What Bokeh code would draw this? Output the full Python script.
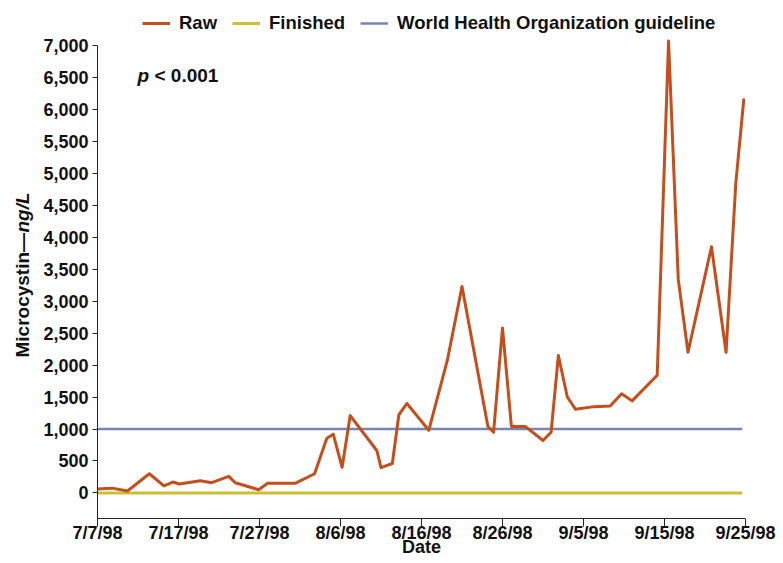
import math
import pandas as pd
from bokeh.plotting import figure
from bokeh.layouts import row
from bokeh.models import (Range1d, FixedTicker, NumeralTickFormatter, Label,
                          Legend, LegendItem)
from bokeh.embed import file_html
from bokeh.resources import INLINE

# ---------------- data ----------------
start_date = "1998-07-07"

raw_day_offsets = [0, 1.8, 3.7, 6.4, 8.2, 9.3, 10.1, 12.7, 14.1, 16.2, 17.0,
                   19.9, 21.0, 24.4, 26.8, 28.3, 29.1, 30.2, 31.2, 34.5, 35.0,
                   36.4, 37.2, 38.2, 40.9, 43.2, 45.0, 48.2, 48.9, 50.0, 51.1,
                   52.8, 55.0, 56.0, 56.9, 58.0, 59.0, 61.3, 63.3, 64.7, 66.0,
                   69.1, 70.5, 71.7, 72.9, 75.8, 77.6, 78.8, 79.8]
raw_values = [60, 75, 30, 300, 110, 170, 140, 190, 160, 260, 160,
              50, 150, 150, 300, 850, 920, 400, 1210, 660, 395,
              460, 1220, 1400, 980, 2080, 3230, 1040, 950, 2580, 1040,
              1040, 820, 950, 2150, 1500, 1310, 1350, 1360, 1550, 1440,
              1840, 7070, 3340, 2200, 3850, 2200, 4840, 6170]

finished_day_offsets = [0, 79.6]
finished_values = [0, 0]

who_day_offsets = [0, 79.6]
who_values = [1000, 1000]

x_tick_labels = ["7/7/98", "7/17/98", "7/27/98", "8/6/98", "8/16/98",
                 "8/26/98", "9/5/98", "9/15/98", "9/25/98"]
y_ticks = [0, 500, 1000, 1500, 2000, 2500, 3000, 3500, 4000, 4500,
           5000, 5500, 6000, 6500, 7000]

series_names = ["Raw", "Finished", "World Health Organization guideline"]
series_colors = ["#C44E1C", "#CBBF32", "#7686B0"]

y_title_main = "Microcystin\u2014"
y_title_unit = "ng/L"
x_title = "Date"
p_value_symbol = "p"
p_value_text = "< 0.001"

# ---------------- helpers ----------------
t0 = pd.Timestamp(start_date)


def to_dates(offsets):
    return [t0 + pd.to_timedelta(d, unit="D") for d in offsets]


tick_dates = pd.to_datetime(x_tick_labels, format="%m/%d/%y")
tick_ms = [float(d.value // 10**6) for d in tick_dates]

FONT = "Liberation Sans"
TXT = "#111111"
H = 563
STRIP_W = 40
BOTTOM = 45
Y_MIN, Y_MAX = -400, 7703

# ---------------- left strip carrying the y-axis title ----------------
strip = figure(width=STRIP_W, height=H, output_backend="svg",
               toolbar_location=None, x_range=Range1d(0, STRIP_W),
               y_range=Range1d(BOTTOM, H), x_axis_location=None,
               y_axis_location=None, min_border_left=0, min_border_right=0,
               min_border_top=0, min_border_bottom=BOTTOM)
strip.outline_line_color = None
strip.grid.visible = False
strip.border_fill_color = "white"
strip.background_fill_color = "white"

title_common = dict(text_font=FONT, text_font_size="19px", text_color=TXT,
                    angle=math.pi / 2, text_align="left",
                    text_baseline="middle")
strip.add_layout(Label(x=22, y=206, text=y_title_main,
                       text_font_style="bold", **title_common))
strip.add_layout(Label(x=22, y=206 + 125, text=y_title_unit,
                       text_font_style="bold italic", **title_common))

# ---------------- main chart ----------------
p = figure(width=783 - STRIP_W, height=H, output_backend="svg",
           toolbar_location=None, x_axis_type="datetime",
           x_range=Range1d(tick_dates[0], tick_dates[-1]),
           y_range=Range1d(Y_MIN, Y_MAX),
           min_border_left=95 - STRIP_W, min_border_right=38,
           min_border_top=0, min_border_bottom=BOTTOM)

p.outline_line_color = None
p.grid.visible = False
p.background_fill_color = "white"
p.border_fill_color = "white"

r_who = p.line(to_dates(who_day_offsets), who_values,
               line_color=series_colors[2], line_width=2.5)
r_fin = p.line(to_dates(finished_day_offsets), finished_values,
               line_color=series_colors[1], line_width=3)
r_raw = p.line(to_dates(raw_day_offsets), raw_values,
               line_color=series_colors[0], line_width=3, line_join="round")

# x axis
xa = p.xaxis[0]
xa.ticker = FixedTicker(ticks=tick_ms)
xa.major_label_overrides = {t: lab for t, lab in zip(tick_ms, x_tick_labels)}
xa.major_tick_out = 8
xa.major_tick_in = 0
xa.minor_tick_out = 0
xa.minor_tick_in = 0
xa.major_label_standoff = -4
xa.axis_line_color = "#222222"
xa.major_tick_line_color = "#222222"
xa.major_label_text_font = FONT
xa.major_label_text_font_style = "bold"
xa.major_label_text_font_size = "18px"
xa.major_label_text_color = TXT
xa.axis_label = x_title
xa.axis_label_standoff = -9
xa.axis_label_text_font = FONT
xa.axis_label_text_font_style = "bold"
xa.axis_label_text_font_size = "18px"
xa.axis_label_text_color = TXT

# y axis (line stops at 7,000)
ya = p.yaxis[0]
ya.ticker = FixedTicker(ticks=y_ticks)
ya.formatter = NumeralTickFormatter(format="0,0")
ya.bounds = (Y_MIN, 7000)
ya.major_tick_out = 5
ya.major_tick_in = 0
ya.minor_tick_out = 0
ya.minor_tick_in = 0
ya.major_label_standoff = 4
ya.axis_line_color = "#222222"
ya.major_tick_line_color = "#222222"
ya.major_label_text_font = FONT
ya.major_label_text_font_style = "bold"
ya.major_label_text_font_size = "18px"
ya.major_label_text_color = TXT

# p-value annotation (inside the frame)
pcommon = dict(x_units="screen", y_units="screen", text_font=FONT,
               text_font_size="19px", text_color=TXT,
               text_baseline="middle", text_align="left")
p.add_layout(Label(x=40, y=443, text=p_value_symbol,
                   text_font_style="bold italic", **pcommon))
p.add_layout(Label(x=57, y=443, text=p_value_text,
                   text_font_style="bold", **pcommon))

# legend, inside the (tall) frame, above the data
legend = Legend(items=[LegendItem(label=series_names[0], renderers=[r_raw]),
                       LegendItem(label=series_names[1], renderers=[r_fin]),
                       LegendItem(label=series_names[2], renderers=[r_who])],
                orientation="horizontal", location=(45, 484),
                glyph_width=28, glyph_height=20, label_standoff=9, spacing=15,
                padding=0, margin=0, border_line_color=None,
                background_fill_alpha=0,
                label_text_font=FONT, label_text_font_style="bold",
                label_text_font_size="18.5px", label_text_color=TXT)
p.add_layout(legend, "center")

layout = row(strip, p)
open("out.html", "w").write(file_html(layout, INLINE))
